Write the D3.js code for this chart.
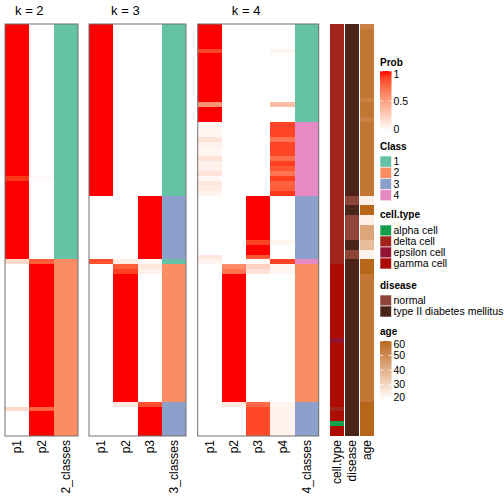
<!DOCTYPE html>
<html><head><meta charset="utf-8">
<script src="https://cdn.jsdelivr.net/npm/d3@7"></script>
<style>body{margin:0;background:#fff}svg{display:block;font-family:"Liberation Sans",Arial,Helvetica,sans-serif}</style>
</head><body><svg id="c" width="504" height="504"></svg>
<script>
// ---------- data (84 samples, top to bottom) ----------
const k2_p1 = [1,1,1,1,1,1,1,1,1,1, 1,1,1,1,1,1,1,1,1,1, 1,1,1,1,1,1,1,1,1,1, 1,0.92,1,1,1,1,1,1,1,1,
  1,1,1,1,1,1,1,1,0.2,0, 0,0,0,0,0,0,0,0,0,0, 0,0,0,0,0,0,0,0,0,0, 0,0,0,0,0,0,0,0,0.2,0, 0,0,0,0];
const k2_p2 = [0,0,0,0,0,0,0,0,0,0, 0,0,0,0,0,0,0,0,0,0, 0,0,0,0,0,0,0,0,0,0, 0,0.03,0,0,0,0,0,0,0,0,
  0,0,0,0,0,0,0,0,0.8,1, 1,1,1,1,1,1,1,1,1,1, 1,1,1,1,1,1,1,1,1,1, 1,1,1,1,1,1,1,1,0.78,1, 1,1,1,1];
const k2_cls = [1,1,1,1,1,1,1,1,1,1, 1,1,1,1,1,1,1,1,1,1, 1,1,1,1,1,1,1,1,1,1, 1,1,1,1,1,1,1,1,1,1,
  1,1,1,1,1,1,1,1,2,2, 2,2,2,2,2,2,2,2,2,2, 2,2,2,2,2,2,2,2,2,2, 2,2,2,2,2,2,2,2,2,2, 2,2,2,2];

const k3_p1 = [1,1,1,1,1,1,1,1,1,1, 1,1,1,1,1,1,1,1,1,1, 1,1,1,1,1,1,1,1,1,1, 1,1,1,1,1,0,0,0,0,0,
  0,0,0,0,0,0,0,0,0.85,0, 0,0,0,0,0,0,0,0,0,0, 0,0,0,0,0,0,0,0,0,0, 0,0,0,0,0,0,0,0,0,0, 0,0,0,0];
const k3_p2 = [0,0,0,0,0,0,0,0,0,0, 0,0,0,0,0,0,0,0,0,0, 0,0,0,0,0,0,0,0,0,0, 0,0,0,0,0,0,0,0,0,0,
  0,0,0,0,0,0,0,0,0.1,0.8, 0.9,1,1,1,1,1,1,1,1,1, 1,1,1,1,1,1,1,1,1,1, 1,1,1,1,1,1,1,0.12,0,0, 0,0,0,0];
const k3_p3 = [0,0,0,0,0,0,0,0,0,0, 0,0,0,0,0,0,0,0,0,0, 0,0,0,0,0,0,0,0,0,0, 0,0,0,0,0,1,1,1,1,1,
  1,1,1,1,1,1,1,1,0.03,0.13, 0.07,0,0,0,0,0,0,0,0,0, 0,0,0,0,0,0,0,0,0,0, 0,0,0,0,0,0,0,0.85,1,1, 1,1,1,1];
const k3_cls = [1,1,1,1,1,1,1,1,1,1, 1,1,1,1,1,1,1,1,1,1, 1,1,1,1,1,1,1,1,1,1, 1,1,1,1,1,3,3,3,3,3,
  3,3,3,3,3,3,3,3,1,2, 2,2,2,2,2,2,2,2,2,2, 2,2,2,2,2,2,2,2,2,2, 2,2,2,2,2,2,2,3,3,3, 3,3,3,3];

const k4_p1 = [1,1,1,1,1,0.88,1,1,1,1, 1,1,1,1,1,1,0.55,1,1,1,
  0.05,0.05,0.05,0.15,0.07,0.05,0.05,0.15,0.07,0.08, 0.15,0.04,0.12,0.1,0.06,0,0,0,0,0,
  0,0,0,0,0,0,0,0.12,0.06,0, 0,0,0,0,0,0,0,0,0,0, 0,0,0,0,0,0,0,0,0,0, 0,0,0,0,0,0,0,0,0,0, 0,0,0,0];
const k4_p2 = [0,0,0,0,0,0,0,0,0,0, 0,0,0,0,0,0,0,0,0,0, 0,0,0,0,0,0,0,0,0,0, 0,0,0,0,0,0,0,0,0,0,
  0,0,0,0,0,0,0,0,0,0.6, 0.7,1,1,1,1,1,1,1,1,1, 1,1,1,1,1,1,1,1,1,1, 1,1,1,1,1,1,1,0.12,0,0, 0,0,0,0];
const k4_p3 = [0,0,0,0,0,0,0,0,0,0, 0,0,0,0,0,0,0,0,0,0, 0,0,0,0,0,0,0,0,0,0, 0,0,0,0,0,1,1,1,1,1,
  1,1,1,1,0.88,1,1,0.82,0.03,0.25, 0.15,0,0,0,0,0,0,0,0,0, 0,0,0,0,0,0,0,0,0,0, 0,0,0,0,0,0,0,0.75,0.87,0.87, 0.87,0.87,0.87,0.87];
const k4_p4 = [0,0,0,0,0,0.05,0,0,0,0, 0,0,0,0,0,0,0.35,0,0,0,
  0.88,0.88,0.88,0.7,0.88,0.88,0.88,0.72,0.9,0.82, 0.7,0.9,0.78,0.8,0.92,0,0,0,0,0,
  0,0,0,0,0.05,0,0,0,0.88,0.05, 0.05,0,0,0,0,0,0,0,0,0, 0,0,0,0,0,0,0,0,0,0, 0,0,0,0,0,0,0,0.05,0.07,0.07, 0.07,0.07,0.07,0.07];
const k4_cls = [1,1,1,1,1,1,1,1,1,1, 1,1,1,1,1,1,1,1,1,1, 4,4,4,4,4,4,4,4,4,4, 4,4,4,4,4,3,3,3,3,3,
  3,3,3,3,3,3,3,3,4,2, 2,2,2,2,2,2,2,2,2,2, 2,2,2,2,2,2,2,2,2,2, 2,2,2,2,2,2,2,3,3,3, 3,3,3,3];

// annotations: cell type codes (a=alpha, d=delta, e=epsilon, g=gamma), disease (N=normal, T=type II)
const cellTypeCodes = ["d","d","d","d","d","d","d","d","d","d", "d","d","d","d","d","d","d","d","d","d",
  "d","d","d","d","d","d","d","d","d","d", "d","d","d","d","d","d","d","d","d","d",
  "d","d","d","d","d","d","d","d","d","g", "g","g","g","g","g","g","g","g","g","g",
  "g","g","g","g","e","g","g","g","g","g", "g","g","g","g","g","g","g","g","d","g", "g","a","g","g"];
const diseaseCodes = ["T","T","T","T","T","T","T","T","T","T", "T","T","T","T","T","T","T","T","T","T",
  "T","T","T","T","T","T","T","T","T","T", "T","T","T","T","T","N","N","T","T","N",
  "N","N","N","N","T","T","N","N","T","T", "T","T","T","T","T","T","T","T","T","T",
  "T","T","T","T","T","T","T","T","T","T", "T","T","T","T","T","T","T","T","T","T", "T","T","T","T"];
const ages = [53,56,56,56,56,56,56,56,56,56, 56,56,56,56,56,53,56,56,56,53,
  56,56,56,56,56,56,56,56,56,56, 56,56,56,56,56,24,24,60,60,24,
  24,43,43,43,37,37,23,23,60,60, 60,56,56,56,56,56,56,56,56,56,
  56,56,56,56,56,56,56,56,56,56, 56,56,56,56,56,56,56,60,60,60, 60,60,60,60];

// legend levels / colours
const classLevels = [1,2,3,4];
const classColors = ["#66C2A5","#FC8D62","#8DA0CB","#E78AC3"];
const cellTypeKeys = ["a","d","e","g"];
const cellTypeNames = ["alpha cell","delta cell","epsilon cell","gamma cell"];
const cellTypeColors = ["#14A04A","#A3241A","#921430","#AC0C02"];
const diseaseKeys = ["N","T"];
const diseaseNames = ["normal","type II diabetes mellitus"];
const diseaseColors = ["#8E4438","#4A2418"];
const probTicks = [0,0.5,1];
const ageTicks = [20,30,40,50,60];

// ---------- drawing ----------
const svg = d3.select("#c");
const FONT = '"Liberation Sans",Arial,Helvetica,sans-serif';
const N = k2_p1.length;
const y = d3.scaleBand().domain(d3.range(N)).range([24,436]);
const probColor = d3.scaleLinear().domain([0,1]).range(["#ffffff","#ff0000"]).interpolate(d3.interpolateLab);
const clsColor = d3.scaleOrdinal().domain(classLevels).range(classColors);
const ctColor = d3.scaleOrdinal().domain(cellTypeKeys).range(cellTypeColors);
const disColor = d3.scaleOrdinal().domain(diseaseKeys).range(diseaseColors);
const ageColor = d3.scaleLinear().domain([20,60]).range(["#ffffff","#B8671A"]).interpolate(d3.interpolateLab).clamp(true);

const panels = [
  {x0:5, x1:78, title:"k = 2", probs:[k2_p1,k2_p2], cls:k2_cls, clsLabel:"2_classes"},
  {x0:89, x1:186, title:"k = 3", probs:[k3_p1,k3_p2,k3_p3], cls:k3_cls, clsLabel:"3_classes"},
  {x0:197.7, x1:318.7, title:"k = 4", probs:[k4_p1,k4_p2,k4_p3,k4_p4], cls:k4_cls, clsLabel:"4_classes"}
];

function column(g, arr, x, w, colorFn){
  g.append("g").selectAll("rect").data(arr).join("rect")
    .attr("x", x).attr("y", (d,i)=>y(i)).attr("width", w).attr("height", y.bandwidth())
    .attr("fill", d=>colorFn(d)).attr("shape-rendering","crispEdges");
}
function colLabel(text, cx){
  svg.append("text").attr("transform",`translate(${cx},440) rotate(-90)`)
    .attr("text-anchor","end").attr("dy","0.35em").attr("font-size",12).attr("fill","#000").text(text);
}

panels.forEach(p=>{
  const cols = p.probs.map((_,i)=>"p"+(i+1)).concat([p.clsLabel]);
  const x = d3.scaleBand().domain(cols).range([p.x0,p.x1]);
  const g = svg.append("g");
  p.probs.forEach((arr,i)=>column(g, arr, x(cols[i]), x.bandwidth(), probColor));
  column(g, p.cls, x(p.clsLabel), x.bandwidth(), clsColor);
  g.append("rect").attr("x",p.x0).attr("y",24).attr("width",p.x1-p.x0).attr("height",412)
    .attr("fill","none").attr("stroke","#707070").attr("stroke-width",1);
  const cx = (x(cols[0]) + x(cols[p.probs.length-1]) + x.bandwidth())/2;
  svg.append("text").attr("x",cx).attr("y",15).attr("text-anchor","middle").attr("font-size",13).text(p.title);
  cols.forEach(c=>colLabel(c, x(c)+x.bandwidth()/2));
});

// annotation columns
const annNames = ["cell.type","disease","age"];
const ax = d3.scaleBand().domain(annNames).range([330,374]).paddingInner(0.0667);
const ag = svg.append("g");
column(ag, cellTypeCodes, ax("cell.type"), ax.bandwidth(), ctColor);
column(ag, diseaseCodes, ax("disease"), ax.bandwidth(), disColor);
column(ag, ages, ax("age"), ax.bandwidth(), ageColor);
annNames.forEach(n=>colLabel(n, ax(n)+ax.bandwidth()/2));

// ---------- legends ----------
const LX = 380, LW = 11.5, TX = 393.5;
function legendTitle(t, yb){
  svg.append("text").attr("x",LX).attr("y",yb).attr("font-size",10).attr("font-weight","bold").text(t);
}
function discreteLegend(title, yb, top, step, keys, names, colorFn){
  legendTitle(title, yb);
  keys.forEach((k,i)=>{
    svg.append("rect").attr("x",LX).attr("y",top+i*step).attr("width",LW).attr("height",step)
      .attr("fill",colorFn(k)).attr("stroke","#fff").attr("stroke-width",0.6);
    svg.append("text").attr("x",TX).attr("y",top+i*step+step/2).attr("dy","0.35em")
      .attr("font-size",10.5).text(names[i]);
  });
}
function gradientLegend(title, yb, id, domain, top, bottom, colorFn, ticks){
  legendTitle(title, yb);
  const sc = d3.scaleLinear().domain(domain).range([bottom, top]);
  const grad = svg.append("defs").append("linearGradient").attr("id",id)
    .attr("x1",0).attr("x2",0).attr("y1",1).attr("y2",0);
  d3.range(11).forEach(i=>{
    const v = domain[0] + (domain[1]-domain[0])*i/10;
    grad.append("stop").attr("offset",i/10).attr("stop-color",colorFn(v));
  });
  svg.append("rect").attr("x",LX).attr("y",top).attr("width",LW).attr("height",bottom-top).attr("fill",`url(#${id})`);
  ticks.forEach(t=>{
    const ty = sc(t);
    svg.append("line").attr("x1",LX).attr("x2",LX+3).attr("y1",ty).attr("y2",ty).attr("stroke","#fff").attr("stroke-width",0.8);
    svg.append("line").attr("x1",LX+LW-3).attr("x2",LX+LW).attr("y1",ty).attr("y2",ty).attr("stroke","#fff").attr("stroke-width",0.8);
    const ly = Math.min(Math.max(ty, top+3), bottom-2);
    svg.append("text").attr("x",TX).attr("y",ly).attr("dy","0.35em").attr("font-size",10.5).text(t);
  });
}
gradientLegend("Prob", 66, "gp", [0,1], 71, 131, probColor, probTicks);
discreteLegend("Class", 150, 156, 11.2, classLevels, classLevels.map(String), clsColor);
discreteLegend("cell.type", 217.5, 225, 11, cellTypeKeys, cellTypeNames, ctColor);
discreteLegend("disease", 289, 295, 11, diseaseKeys, diseaseNames, disColor);
gradientLegend("age", 334.5, "ga", [20,60], 341, 399, ageColor, ageTicks);
</script></body></html>
